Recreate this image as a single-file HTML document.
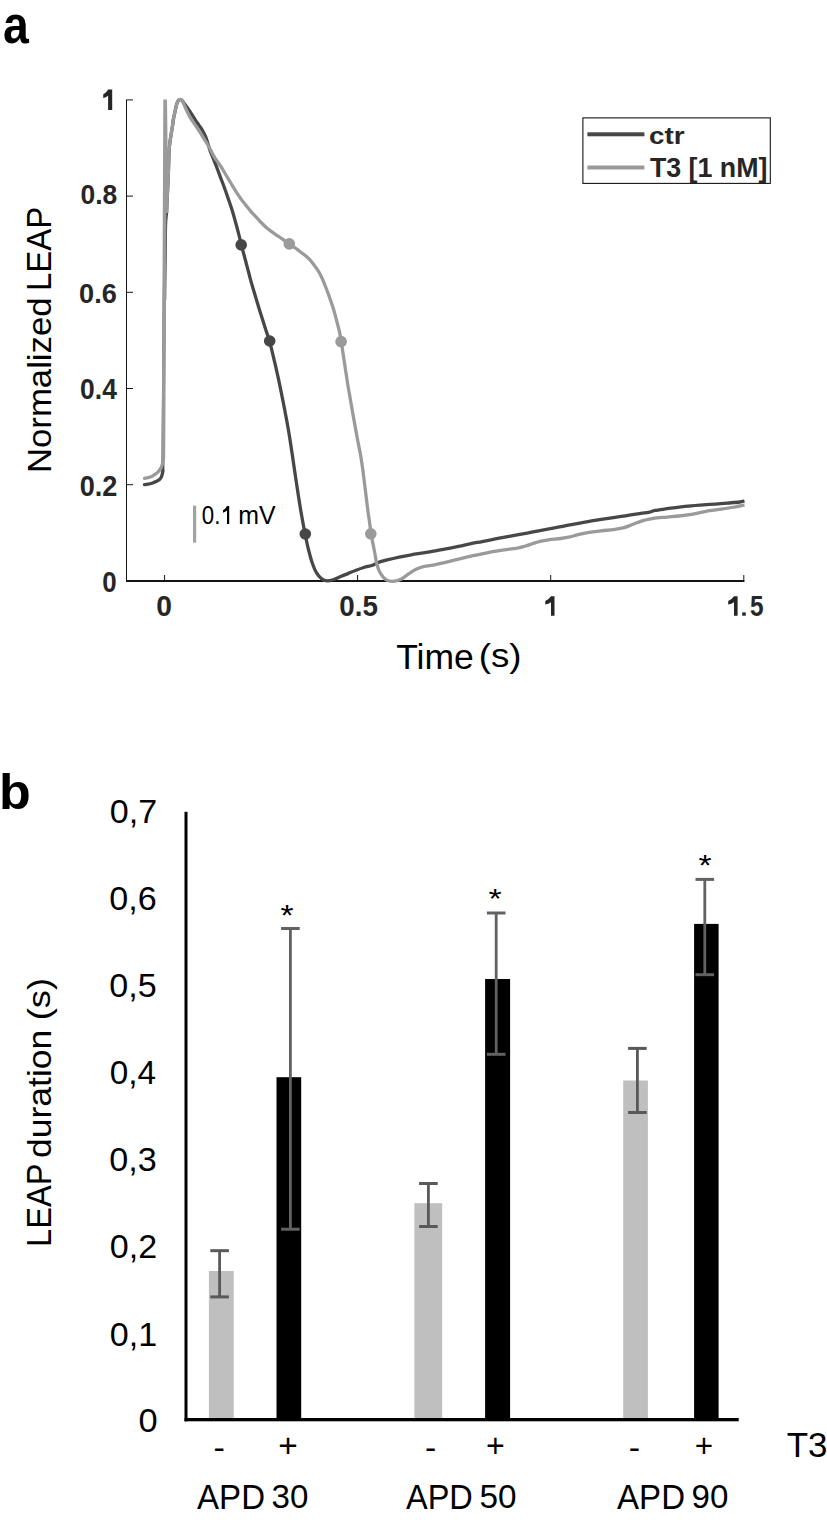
<!DOCTYPE html>
<html><head><meta charset="utf-8"><style>
html,body{margin:0;padding:0;background:#fff;}
body{width:827px;height:1520px;overflow:hidden;}
svg{display:block;}
text{font-family:"Liberation Sans",sans-serif;}
</style></head><body>
<svg width="827" height="1520" viewBox="0 0 827 1520">
<rect x="126" y="99.5" width="1" height="481.5" fill="#141414"/>
<rect x="126" y="580" width="618.5" height="2" fill="#141414"/>
<rect x="127" y="484.2" width="6" height="1" fill="#141414"/>
<rect x="127" y="388.0" width="6" height="1" fill="#141414"/>
<rect x="127" y="291.8" width="6" height="1" fill="#141414"/>
<rect x="127" y="195.6" width="6" height="1" fill="#141414"/>
<rect x="127" y="99.4" width="6" height="1" fill="#141414"/>
<rect x="164.1" y="575" width="1" height="5" fill="#141414"/>
<rect x="357.1" y="575" width="1" height="5" fill="#141414"/>
<rect x="550.2" y="575" width="1" height="5" fill="#141414"/>
<rect x="743.3" y="575" width="1" height="5" fill="#141414"/>
<rect x="193" y="505.6" width="3.2" height="37" fill="#a3a3a3"/>
<path d="M144.50 484.70 C145.08 484.62 146.75 484.45 148.00 484.20 C149.25 483.95 150.67 483.63 152.00 483.20 C153.33 482.77 154.75 482.22 156.00 481.60 C157.25 480.98 158.57 480.35 159.50 479.50 C160.43 478.65 161.03 477.92 161.60 476.50 C162.17 475.08 162.68 471.92 162.90 471.00" fill="none" stroke="#474747" stroke-width="3.3" stroke-linejoin="round" stroke-linecap="round"/>
<path d="M162.9 471 L164.2 300 L165.4 220" fill="none" stroke="#474747" stroke-width="3"/>
<path d="M164.60 300.00 C164.73 288.33 165.08 244.67 165.40 230.00 C165.72 215.33 166.03 220.83 166.50 212.00 C166.97 203.17 167.73 187.67 168.20 177.00 C168.67 166.33 168.80 155.17 169.30 148.00 C169.80 140.83 170.68 137.57 171.20 134.00 C171.72 130.43 172.03 129.03 172.40 126.60 C172.77 124.17 172.98 121.82 173.40 119.40 C173.82 116.98 174.38 114.52 174.90 112.10 C175.42 109.68 175.98 106.72 176.50 104.90 C177.02 103.08 177.48 102.07 178.00 101.20 C178.52 100.33 178.97 99.87 179.60 99.70 C180.23 99.53 181.03 99.58 181.80 100.20 C182.57 100.82 183.22 102.08 184.20 103.40 C185.18 104.72 186.32 106.12 187.70 108.10 C189.08 110.08 191.05 113.05 192.50 115.30 C193.95 117.55 195.28 119.88 196.40 121.60 C197.52 123.32 198.18 124.12 199.20 125.60 C200.22 127.08 201.45 128.68 202.50 130.50 C203.55 132.32 204.60 134.33 205.50 136.50 C206.40 138.67 207.12 141.08 207.90 143.50 C208.68 145.92 209.32 148.53 210.20 151.00 C211.08 153.47 212.20 155.83 213.20 158.30 C214.20 160.77 215.02 162.72 216.20 165.80 C217.38 168.88 218.90 173.07 220.30 176.80 C221.70 180.53 223.25 184.48 224.60 188.20 C225.95 191.92 227.18 195.53 228.40 199.10 C229.62 202.67 230.75 205.90 231.90 209.60 C233.05 213.30 234.18 217.28 235.30 221.30 C236.42 225.32 237.58 229.73 238.60 233.70 C239.62 237.67 240.58 241.88 241.40 245.10 C242.22 248.32 242.75 250.18 243.50 253.00 C244.25 255.82 245.02 258.67 245.90 262.00 C246.78 265.33 247.92 269.65 248.80 273.00 C249.68 276.35 250.35 279.07 251.20 282.10 C252.05 285.13 253.00 288.18 253.90 291.20 C254.80 294.22 255.70 297.18 256.60 300.20 C257.50 303.22 258.35 306.20 259.30 309.30 C260.25 312.40 261.25 315.48 262.30 318.80 C263.35 322.12 264.40 325.50 265.60 329.20 C266.80 332.90 268.34 336.98 269.50 341.00 C270.66 345.02 271.55 349.14 272.56 353.30 C273.57 357.46 274.57 361.63 275.56 365.94 C276.55 370.26 277.52 374.66 278.50 379.19 C279.47 383.72 280.43 388.38 281.40 393.11 C282.37 397.83 283.34 402.66 284.29 407.56 C285.24 412.46 286.19 417.45 287.10 422.52 C288.01 427.58 288.89 432.79 289.73 437.95 C290.56 443.11 291.34 448.36 292.11 453.48 C292.88 458.59 293.60 463.66 294.33 468.64 C295.06 473.62 295.78 478.51 296.50 483.34 C297.22 488.17 297.95 492.99 298.67 497.61 C299.39 502.23 300.11 506.81 300.83 511.07 C301.56 515.33 302.28 519.34 303.01 523.18 C303.74 527.01 304.49 530.51 305.20 534.10 C305.91 537.69 306.55 541.33 307.30 544.70 C308.05 548.07 308.82 551.08 309.70 554.30 C310.58 557.52 311.48 560.93 312.60 564.00 C313.72 567.07 314.95 570.28 316.40 572.70 C317.85 575.12 319.52 577.13 321.30 578.50 C323.08 579.87 325.02 580.73 327.10 580.90 C329.18 581.07 331.55 580.22 333.80 579.50 C336.05 578.78 338.17 577.59 340.60 576.57 C343.03 575.54 345.82 574.42 348.40 573.36 C350.98 572.30 353.53 571.18 356.10 570.21 C358.67 569.24 361.07 568.36 363.80 567.54 C366.53 566.71 370.23 566.05 372.50 565.26 C374.77 564.48 374.97 563.72 377.40 562.82 C379.83 561.93 383.47 560.88 387.10 559.91 C390.73 558.95 395.17 557.89 399.20 557.04 C403.23 556.18 407.27 555.46 411.30 554.78 C415.33 554.09 419.37 553.57 423.40 552.93 C427.43 552.29 431.47 551.66 435.50 550.94 C439.53 550.22 443.58 549.41 447.60 548.61 C451.62 547.82 455.87 546.98 459.60 546.19 C463.33 545.40 466.25 544.64 470.00 543.87 C473.75 543.10 478.07 542.35 482.10 541.57 C486.13 540.79 490.17 539.98 494.20 539.19 C498.23 538.40 502.27 537.59 506.30 536.83 C510.33 536.06 514.37 535.33 518.40 534.59 C522.43 533.86 526.47 533.17 530.50 532.43 C534.53 531.70 538.58 530.93 542.60 530.18 C546.62 529.43 550.87 528.67 554.60 527.94 C558.33 527.20 561.25 526.51 565.00 525.78 C568.75 525.06 573.07 524.32 577.10 523.59 C581.13 522.86 585.17 522.09 589.20 521.39 C593.23 520.69 597.27 520.03 601.30 519.39 C605.33 518.76 609.37 518.20 613.40 517.61 C617.43 517.01 621.47 516.43 625.50 515.81 C629.53 515.19 633.58 514.52 637.60 513.89 C641.62 513.27 646.70 512.66 649.60 512.08 C652.50 511.51 652.08 511.00 655.00 510.44 C657.92 509.89 663.07 509.30 667.10 508.74 C671.13 508.19 675.17 507.58 679.20 507.10 C683.23 506.62 687.27 506.21 691.30 505.84 C695.33 505.48 699.37 505.22 703.40 504.92 C707.43 504.62 711.47 504.34 715.50 504.03 C719.53 503.72 723.58 503.38 727.60 503.04 C731.62 502.70 736.78 502.34 739.60 502.00 C742.42 501.66 743.68 501.17 744.50 501.00" fill="none" stroke="#474747" stroke-width="3.3" stroke-linejoin="round"/>
<circle cx="241.2" cy="244.9" r="5.8" fill="#474747"/>
<circle cx="269.7" cy="341.0" r="5.8" fill="#474747"/>
<circle cx="305.3" cy="534.0" r="5.8" fill="#474747"/>
<path d="M144.50 478.30 C145.08 478.18 146.75 477.95 148.00 477.60 C149.25 477.25 150.67 476.83 152.00 476.20 C153.33 475.57 154.75 474.80 156.00 473.80 C157.25 472.80 158.50 471.58 159.50 470.20 C160.50 468.82 161.35 467.37 162.00 465.50 C162.65 463.63 163.17 460.08 163.40 459.00" fill="none" stroke="#9a9a9a" stroke-width="3.3" stroke-linejoin="round" stroke-linecap="round"/>
<path d="M163.4 459 L164.2 300 L165.1 100.6 M165.2 99.6 L166.6 213" fill="none" stroke="#9a9a9a" stroke-width="3.6" stroke-linejoin="miter"/>
<path d="M166.50 212.00 C166.78 206.17 167.73 187.67 168.20 177.00 C168.67 166.33 168.80 155.17 169.30 148.00 C169.80 140.83 170.68 137.57 171.20 134.00 C171.72 130.43 172.03 129.03 172.40 126.60 C172.77 124.17 172.98 121.82 173.40 119.40 C173.82 116.98 174.38 114.52 174.90 112.10 C175.42 109.68 175.98 106.72 176.50 104.90 C177.02 103.08 177.52 102.08 178.00 101.20 C178.48 100.32 178.85 99.82 179.40 99.60 C179.95 99.38 180.70 99.47 181.30 99.90 C181.90 100.33 182.33 100.93 183.00 102.20 C183.67 103.47 184.12 104.96 185.30 107.50 C186.48 110.04 188.40 114.45 190.10 117.42 C191.80 120.40 193.93 123.00 195.50 125.33 C197.07 127.65 198.25 129.43 199.50 131.40 C200.75 133.37 201.75 135.13 203.00 137.15 C204.25 139.17 205.70 141.30 207.00 143.50 C208.30 145.70 209.47 147.95 210.80 150.38 C212.13 152.80 213.30 155.38 215.00 158.07 C216.70 160.77 219.17 163.73 221.00 166.55 C222.83 169.37 224.32 172.18 226.00 175.00 C227.68 177.82 229.40 180.69 231.10 183.50 C232.80 186.31 234.50 189.20 236.20 191.85 C237.90 194.50 239.60 197.03 241.30 199.38 C243.00 201.72 244.78 203.87 246.40 205.90 C248.02 207.93 249.40 209.71 251.00 211.55 C252.60 213.39 254.35 215.15 256.00 216.92 C257.65 218.70 259.28 220.56 260.90 222.23 C262.52 223.89 264.08 225.47 265.70 226.90 C267.32 228.33 268.98 229.59 270.60 230.82 C272.22 232.06 273.80 233.21 275.40 234.32 C277.00 235.44 278.68 236.45 280.20 237.50 C281.72 238.55 282.98 239.53 284.50 240.60 C286.02 241.67 287.58 242.73 289.30 243.90 C291.02 245.07 293.20 246.49 294.80 247.62 C296.40 248.76 297.63 249.76 298.90 250.71 C300.17 251.66 301.25 252.44 302.40 253.32 C303.55 254.20 304.65 255.02 305.80 256.00 C306.95 256.98 308.15 258.00 309.30 259.19 C310.45 260.39 311.55 261.71 312.70 263.16 C313.85 264.61 315.05 266.23 316.20 267.91 C317.35 269.58 318.57 271.37 319.60 273.22 C320.63 275.07 321.48 276.97 322.40 279.02 C323.32 281.07 324.18 283.20 325.10 285.51 C326.02 287.81 326.97 290.31 327.90 292.85 C328.83 295.39 329.78 298.12 330.70 300.76 C331.62 303.39 332.60 306.05 333.40 308.66 C334.20 311.28 334.80 313.81 335.50 316.43 C336.20 319.05 336.90 321.67 337.60 324.40 C338.30 327.13 339.08 329.94 339.70 332.79 C340.32 335.64 340.72 337.88 341.30 341.50 C341.88 345.12 342.52 349.93 343.20 354.50 C343.88 359.07 344.67 364.08 345.40 368.90 C346.13 373.72 346.82 378.57 347.60 383.40 C348.38 388.23 349.27 393.07 350.10 397.90 C350.93 402.73 351.75 407.58 352.60 412.40 C353.45 417.22 354.33 422.03 355.20 426.80 C356.07 431.57 356.92 436.38 357.80 441.00 C358.68 445.62 359.68 449.85 360.50 454.50 C361.32 459.15 362.03 464.08 362.70 468.90 C363.37 473.72 363.90 478.57 364.50 483.40 C365.10 488.23 365.70 493.07 366.30 497.90 C366.90 502.73 367.53 508.18 368.10 512.40 C368.67 516.62 369.22 519.65 369.70 523.20 C370.18 526.75 370.42 530.08 371.00 533.70 C371.58 537.32 372.53 541.52 373.20 544.90 C373.87 548.28 374.43 550.98 375.00 554.00 C375.57 557.02 375.80 559.95 376.60 563.00 C377.40 566.05 378.25 569.53 379.80 572.30 C381.35 575.07 383.68 578.08 385.90 579.60 C388.12 581.12 390.48 581.50 393.10 581.40 C395.72 581.30 398.97 580.29 401.60 579.00 C404.23 577.71 406.48 575.29 408.90 573.67 C411.32 572.06 413.68 570.48 416.10 569.30 C418.52 568.12 420.17 567.38 423.40 566.60 C426.63 565.82 431.47 565.41 435.50 564.62 C439.53 563.84 443.58 562.83 447.60 561.88 C451.62 560.92 455.87 559.79 459.60 558.88 C463.33 557.96 466.25 557.21 470.00 556.38 C473.75 555.54 478.07 554.67 482.10 553.85 C486.13 553.03 490.17 552.17 494.20 551.45 C498.23 550.73 502.27 550.14 506.30 549.55 C510.33 548.96 515.18 548.51 518.40 547.92 C521.62 547.34 523.18 546.75 525.60 546.02 C528.02 545.30 530.48 544.34 532.90 543.55 C535.32 542.76 537.48 541.92 540.10 541.30 C542.72 540.67 545.17 540.27 548.60 539.80 C552.03 539.33 557.13 538.98 560.70 538.50 C564.27 538.02 567.27 537.54 570.00 536.92 C572.73 536.31 573.90 535.54 577.10 534.80 C580.30 534.06 585.17 533.14 589.20 532.47 C593.23 531.81 597.27 531.28 601.30 530.80 C605.33 530.32 609.78 530.08 613.40 529.60 C617.02 529.12 620.18 528.65 623.00 527.95 C625.82 527.25 627.87 526.30 630.30 525.40 C632.73 524.50 635.18 523.43 637.60 522.55 C640.02 521.67 642.18 520.83 644.80 520.12 C647.42 519.42 649.58 518.81 653.30 518.30 C657.02 517.79 662.78 517.46 667.10 517.08 C671.42 516.69 675.17 516.45 679.20 516.00 C683.23 515.55 687.67 515.00 691.30 514.40 C694.93 513.80 697.98 513.02 701.00 512.40 C704.02 511.77 705.98 511.20 709.40 510.65 C712.82 510.10 717.47 509.67 721.50 509.10 C725.53 508.53 729.77 507.93 733.60 507.25 C737.43 506.57 742.68 505.38 744.50 505.00" fill="none" stroke="#9a9a9a" stroke-width="3.3" stroke-linejoin="round"/>
<circle cx="289.3" cy="243.9" r="5.8" fill="#9a9a9a"/>
<circle cx="341.1" cy="341.6" r="5.8" fill="#9a9a9a"/>
<circle cx="370.8" cy="533.8" r="5.8" fill="#9a9a9a"/>
<rect x="582.9" y="117.9" width="187.4" height="65.5" fill="#fff" stroke="#141414" stroke-width="1.1"/>
<rect x="587.4" y="132.3" width="57" height="4" fill="#474747"/>
<rect x="587.4" y="165.5" width="57" height="4" fill="#9a9a9a"/>
<path d="M108.1 89.4 L112.2 89.4 L112.2 109.9 L108.1 109.9 L108.1 95.8 Q106 97.7 103.2 98 L103.2 94.4 Q106.3 92.8 108.1 89.4 Z" fill="#262626"/>
<path d="M227 506 L229.2 506 L229.2 524 L227 524 L227 510.6 Q225.3 512.1 223 512.7 L223 510.3 Q225.6 509 227 506 Z" fill="#000"/>
<rect x="742.2" y="612.4" width="3.6" height="3.3" fill="#262626"/>
<path d="M734 596.3 L737.6 596.3 L737.6 615.7 L734 615.7 L734 602.3 Q731.5 604.2 728.2 604.6 L728.2 600.9 Q731.8 599.6 734 596.3 Z" fill="#262626"/>
<path d="M551 596.3 L554.5 596.3 L554.5 615.7 L551 615.7 L551 602.3 Q548.5 604.3 545.3 604.6 L545.3 600.9 Q548.8 599.6 551 596.3 Z" fill="#262626"/>
<text transform="translate(3.00,43.40) rotate(0) scale(0.8929,1.0039)" font-size="52" font-weight="bold" fill="#000">a</text>
<text transform="translate(80.50,204.40) rotate(0) scale(0.9797,1.0350)" font-size="27" font-weight="bold" fill="#262626">0.8</text>
<text transform="translate(79.10,302.50) rotate(0) scale(1.0062,1.0564)" font-size="27" font-weight="bold" fill="#262626">0.6</text>
<text transform="translate(80.10,398.80) rotate(0) scale(0.9797,1.0594)" font-size="27" font-weight="bold" fill="#262626">0.4</text>
<text transform="translate(79.70,495.80) rotate(0) scale(1.0041,1.0733)" font-size="27" font-weight="bold" fill="#262626">0.2</text>
<text transform="translate(102.20,591.80) rotate(0) scale(0.9590,1.0627)" font-size="27" font-weight="bold" fill="#262626">0</text>
<text transform="translate(156.20,615.90) rotate(0) scale(1.0441,1.0615)" font-size="27" font-weight="bold" fill="#262626">0</text>
<text transform="translate(339.30,615.80) rotate(0) scale(1.0296,1.0615)" font-size="27" font-weight="bold" fill="#262626">0.5</text>
<text transform="translate(750.05,615.80) rotate(0) scale(0.9008,1.0733)" font-size="27" font-weight="bold" fill="#262626">5</text>
<text transform="translate(51.00,473.10) rotate(-90) scale(1.0531,1.0000)" font-size="33" fill="#000">Normalized</text>
<text transform="translate(51.00,291.10) rotate(-90) scale(0.9978,1.0539)" font-size="33" fill="#000">LEAP</text>
<text transform="translate(396.15,669.25) rotate(0) scale(1.0763,1.0366)" font-size="33" fill="#000">Time</text>
<text transform="translate(478.70,667.45) rotate(0) scale(1.1116,1.0148)" font-size="33" fill="#000">(s)</text>
<text transform="translate(201.85,523.95) rotate(0) scale(0.9275,1.0663)" font-size="24" fill="#000">0.</text>
<text transform="translate(238.15,524.20) rotate(0) scale(1.0381,1.0386)" font-size="24" fill="#000">mV</text>
<text transform="translate(648.90,143.70) rotate(0) scale(1.0324,0.9117)" font-size="27" font-weight="bold" fill="#262626">ctr</text>
<text transform="translate(649.90,177.10) rotate(0) scale(0.9917,0.9917)" font-size="27" font-weight="bold" fill="#262626">T3 [1 nM]</text>
<rect x="208.9" y="1271.0" width="24.8" height="148.0" fill="#bfbfbf"/>
<rect x="276.5" y="1077.2" width="24.7" height="341.8" fill="#000000"/>
<rect x="414.4" y="1203.2" width="27.8" height="215.8" fill="#bfbfbf"/>
<rect x="485.1" y="979.0" width="25.0" height="440.0" fill="#000000"/>
<rect x="623.2" y="1080.5" width="24.7" height="338.5" fill="#bfbfbf"/>
<rect x="694.1" y="923.9" width="24.5" height="495.1" fill="#000000"/>
<rect x="218.20" y="1250.70" width="2.8" height="46.20" fill="#595959"/>
<rect x="210.30" y="1249.20" width="18.6" height="3" fill="#595959"/>
<rect x="210.30" y="1295.40" width="18.6" height="3" fill="#595959"/>
<rect x="289.00" y="928.50" width="2.8" height="300.70" fill="#626262"/>
<rect x="281.10" y="927.00" width="18.6" height="3" fill="#626262"/>
<rect x="281.10" y="1227.70" width="18.6" height="3" fill="#626262"/>
<rect x="427.00" y="1183.50" width="2.8" height="43.00" fill="#595959"/>
<rect x="419.10" y="1182.00" width="18.6" height="3" fill="#595959"/>
<rect x="419.10" y="1225.00" width="18.6" height="3" fill="#595959"/>
<rect x="494.80" y="913.00" width="2.8" height="141.30" fill="#626262"/>
<rect x="486.90" y="911.50" width="18.6" height="3" fill="#626262"/>
<rect x="486.90" y="1052.80" width="18.6" height="3" fill="#626262"/>
<rect x="636.00" y="1048.40" width="2.8" height="64.10" fill="#595959"/>
<rect x="628.10" y="1046.90" width="18.6" height="3" fill="#595959"/>
<rect x="628.10" y="1111.00" width="18.6" height="3" fill="#595959"/>
<rect x="703.40" y="879.40" width="2.8" height="95.30" fill="#626262"/>
<rect x="695.50" y="877.90" width="18.6" height="3" fill="#626262"/>
<rect x="695.50" y="973.20" width="18.6" height="3" fill="#626262"/>
<rect x="184.5" y="811.8" width="3" height="609.5" fill="#000"/>
<rect x="184.5" y="1418" width="554.2" height="3.3" fill="#000"/>
<text transform="translate(-1.00,808.90) rotate(0) scale(1.0000,0.9516)" font-size="52" font-weight="bold" fill="#000">b</text>
<text transform="translate(109.80,823.00) rotate(0) scale(1.0018,1.0018)" font-size="34" fill="#000">0,7</text>
<text transform="translate(109.30,910.48) rotate(0) scale(1.0033,1.0033)" font-size="34" fill="#000">0,6</text>
<text transform="translate(109.30,996.96) rotate(0) scale(1.0043,1.0043)" font-size="34" fill="#000">0,5</text>
<text transform="translate(109.80,1084.44) rotate(0) scale(0.9796,0.9796)" font-size="34" fill="#000">0,4</text>
<text transform="translate(109.30,1170.92) rotate(0) scale(1.0033,1.0033)" font-size="34" fill="#000">0,3</text>
<text transform="translate(109.80,1258.40) rotate(0) scale(1.0018,1.0018)" font-size="34" fill="#000">0,2</text>
<text transform="translate(109.80,1345.88) rotate(0) scale(1.0018,1.0018)" font-size="34" fill="#000">0,1</text>
<text transform="translate(138.40,1432.10) rotate(0) scale(1.0140,0.9634)" font-size="34" fill="#000">0</text>
<text transform="translate(197.10,1509.40) rotate(0) scale(0.9715,1.0043)" font-size="34" fill="#000">APD</text>
<text transform="translate(271.50,1508.10) rotate(0) scale(0.9744,0.9744)" font-size="34" fill="#000">30</text>
<text transform="translate(406.00,1509.40) rotate(0) scale(0.9567,1.0043)" font-size="34" fill="#000">APD</text>
<text transform="translate(479.50,1508.10) rotate(0) scale(0.9800,0.9800)" font-size="34" fill="#000">50</text>
<text transform="translate(617.10,1509.40) rotate(0) scale(0.9715,1.0043)" font-size="34" fill="#000">APD</text>
<text transform="translate(691.50,1508.10) rotate(0) scale(0.9744,0.9744)" font-size="34" fill="#000">90</text>
<text transform="translate(786.70,1457.30) rotate(0) scale(1.0593,1.0503)" font-size="33" fill="#000">T3</text>
<text transform="translate(213.60,1458.30) rotate(0) scale(1.0330,0.9584)" font-size="33" fill="#000">-</text>
<text transform="translate(278.20,1457.00) rotate(0) scale(1.0134,1.0134)" font-size="33" fill="#000">+</text>
<text transform="translate(425.00,1458.30) rotate(0) scale(1.0183,0.9584)" font-size="33" fill="#000">-</text>
<text transform="translate(486.10,1457.00) rotate(0) scale(0.9731,1.0134)" font-size="33" fill="#000">+</text>
<text transform="translate(628.70,1458.30) rotate(0) scale(1.0330,0.9584)" font-size="33" fill="#000">-</text>
<text transform="translate(694.80,1457.00) rotate(0) scale(0.9534,1.0051)" font-size="33" fill="#000">+</text>
<text transform="translate(280.50,924.60) rotate(0) scale(1.0171,0.8739)" font-size="33" fill="#000">*</text>
<text transform="translate(488.50,907.50) rotate(0) scale(1.0327,0.8655)" font-size="33" fill="#000">*</text>
<text transform="translate(698.50,874.60) rotate(0) scale(1.0171,0.8739)" font-size="33" fill="#000">*</text>
<text transform="translate(50.90,1246.90) rotate(-90) scale(0.9877,1.0460)" font-size="33" fill="#000">LEAP</text>
<text transform="translate(50.85,1157.95) rotate(-90) scale(1.0756,0.9941)" font-size="33" fill="#000">duration</text>
<text transform="translate(49.85,1020.35) rotate(-90) scale(1.1015,0.9527)" font-size="33" fill="#000">(s)</text>
</svg>
</body></html>
